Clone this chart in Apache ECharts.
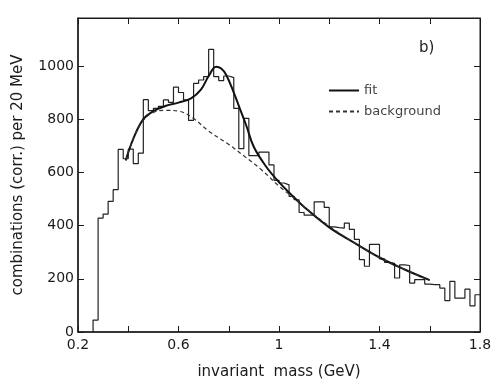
<!DOCTYPE html>
<html>
<head>
<meta charset="utf-8">
<script src="https://cdn.jsdelivr.net/npm/echarts@6/dist/echarts.min.js"></script>
<style>
html,body{margin:0;padding:0;background:#fff;}
#chart{width:491px;height:380px;}
</style>
</head>
<body>
<div id="chart"></div>
<script>
// histogram: 20 MeV bins starting at 0.26 GeV
const binStart = 0.26;
const binWidth = 0.02;
const counts = [45, 428, 443, 491, 535, 686, 651, 687, 633, 672,
  873, 832, 840, 848, 872, 863, 920, 900, 872, 795,
  934, 947, 960, 1062, 960, 945, 962, 956, 840, 689,
  803, 663, 663, 676, 676, 628, 570, 560, 553, 510,
  497, 449, 439, 439, 489, 489, 468, 395, 392, 390,
  409, 386, 348, 272, 247, 329, 329, 275, 262, 258,
  203, 252, 250, 184, 197, 197, 180, 178, 178, 165,
  118, 190, 127, 127, 161, 98, 140];

// fit curve
const fitMass = [0.39, 0.42, 0.46, 0.50, 0.55, 0.60, 0.65, 0.69, 0.72, 0.75, 0.77, 0.79, 0.82, 0.84, 0.87, 0.90, 0.95, 1.00, 1.05, 1.10, 1.20, 1.30, 1.40, 1.50, 1.60];
const fitVal  = [645, 726, 800, 830, 850, 862, 878, 912, 962, 997, 990, 966, 900, 850, 775, 695, 620, 563, 515, 470, 393, 335, 280, 235, 195];

// background curve
const bgMass = [0.39, 0.42, 0.46, 0.50, 0.55, 0.60, 0.66, 0.72, 0.80, 0.86, 0.93, 1.00, 1.06, 1.10, 1.20, 1.30, 1.40, 1.50, 1.60];
const bgVal  = [645, 726, 795, 825, 833, 830, 802, 755, 705, 662, 610, 548, 503, 470, 398, 335, 280, 235, 195];

const xTicks = [0.2, 0.6, 1, 1.4, 1.8];

const histData = [[binStart, 0]];
counts.forEach((c, i) => histData.push([+(binStart + i * binWidth).toFixed(2), c]));
histData.push([+(binStart + counts.length * binWidth).toFixed(2), counts[counts.length - 1]]);

const fitData = fitMass.map((m, i) => [m, fitVal[i]]);
const bgData = bgMass.map((m, i) => [m, bgVal[i]]);

const font = 'DejaVu Sans';
const ink = '#1a1a1a';

const chart = echarts.init(document.getElementById('chart'), null, {renderer: 'canvas'});
chart.setOption({
  animation: false,
  backgroundColor: '#ffffff',
  title: {
    text: 'b)', left: 414, top: 36,
    textStyle: {fontFamily: font, fontSize: 15, fontWeight: 'normal', color: '#222'}
  },
  legend: {
    data: ['fit', 'background'],
    orient: 'vertical',
    left: 323, top: 79,
    itemWidth: 30, itemHeight: 10, itemGap: 8,
    itemStyle: {opacity: 0},
    textStyle: {fontFamily: font, fontSize: 13, color: '#444'}
  },
  grid: {left: 78, right: 11, top: 18, bottom: 48, outerBoundsMode: 'none', containLabel: false,
    show: true, borderColor: ink, borderWidth: 1, backgroundColor: 'transparent'},
  xAxis: [{
    type: 'value', min: 0.2, max: 1.8, interval: 0.2,
    name: 'invariant  mass (GeV)', nameLocation: 'middle', nameGap: 33,
    nameTextStyle: {fontFamily: font, fontSize: 15, color: ink},
    axisLine: {onZero: false, lineStyle: {color: ink, width: 1.5}},
    axisTick: {inside: true, length: 6, lineStyle: {color: ink}},
    splitLine: {show: false},
    axisLabel: {
      fontFamily: font, fontSize: 14, color: ink, margin: 6,
      formatter: function (v) {
        const hit = xTicks.find(t => Math.abs(t - v) < 1e-6);
        return hit === undefined ? '' : String(hit);
      }
    }
  }, {
    type: 'value', position: 'top', min: 0.2, max: 1.8, interval: 0.2,
    axisLine: {show: true, onZero: false, lineStyle: {color: ink, width: 1}},
    axisTick: {show: true, inside: true, length: 6, lineStyle: {color: ink}},
    axisLabel: {show: false}, splitLine: {show: false}
  }],
  yAxis: [{
    type: 'value', min: 0, max: 1180, interval: 200,
    name: 'combinations (corr.) per 20 MeV', nameLocation: 'middle', nameGap: 52,
    nameTextStyle: {fontFamily: font, fontSize: 15, color: ink},
    axisLine: {show: true, onZero: false, lineStyle: {color: ink, width: 1.5}},
    axisTick: {show: true, inside: true, length: 6, lineStyle: {color: ink}},
    splitLine: {show: false},
    axisLabel: {fontFamily: font, fontSize: 14, color: ink, margin: 4, showMaxLabel: false,
      formatter: function (v) { return String(v); }}
  }, {
    type: 'value', position: 'right', min: 0, max: 1180, interval: 200,
    axisLine: {show: true, onZero: false, lineStyle: {color: ink, width: 1}},
    axisTick: {show: true, inside: true, length: 6, lineStyle: {color: ink}},
    axisLabel: {show: false}, splitLine: {show: false}
  }],
  series: [{
    name: 'histogram', type: 'line', step: 'end',
    data: histData, symbol: 'none', silent: true,
    lineStyle: {color: '#222', width: 1.2}
  }, {
    name: 'fit', type: 'line', smooth: 0.4,
    data: fitData, symbol: 'none', showSymbol: false,
    itemStyle: {color: '#111'},
    lineStyle: {color: '#111', width: 2}
  }, {
    name: 'background', type: 'line', smooth: 0.4,
    xAxisIndex: 1, yAxisIndex: 1,
    data: bgData, symbol: 'none', showSymbol: false,
    itemStyle: {color: '#333'},
    lineStyle: {color: '#333', width: 1.2, type: [4, 3]}
  }]
});
</script>
</body>
</html>
